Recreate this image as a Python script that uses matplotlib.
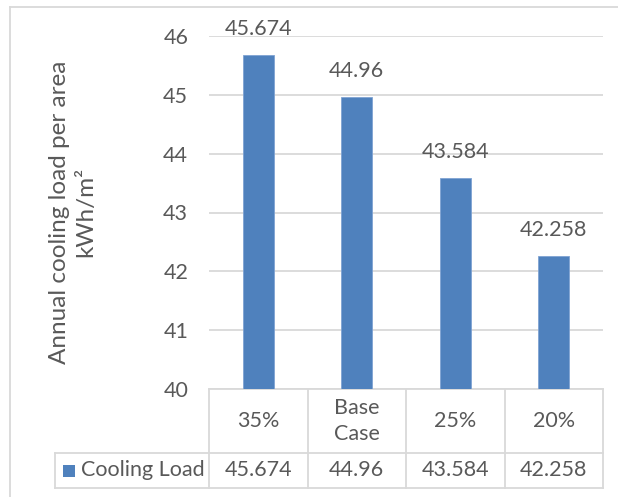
import matplotlib.pyplot as plt
import matplotlib.patches as mpatches
from matplotlib.lines import Line2D

# Cooling load per scenario
categories = ['35%', 'Base\nCase', '25%', '20%']
cooling_load = [45.674, 44.96, 43.584, 42.258]
series_name = 'Cooling Load'
yticks = [40, 41, 42, 43, 44, 45, 46]

BLUE = '#4F81BD'
GRID = '#D9D9D9'
TEXT = '#595959'
FS = 15.5

plt.rcParams['font.family'] = ['Lato', 'DejaVu Sans']

fig = plt.figure(figsize=(6.18, 4.97), dpi=100)
W, H = 618, 497
# plot area in pixels: left 209, right 603, top 36, bottom 389
ax = fig.add_axes([209 / W, 1 - 389 / H, (603 - 209) / W, (389 - 36) / H])

x = range(len(categories))
bars = ax.bar(x, cooling_load, width=0.31, color=BLUE, edgecolor='#7FA3D3',
              linewidth=0.6, zorder=3)

for xi, v in zip(x, cooling_load):
    ax.annotate(f'{v:g}', (xi, v), xytext=(0, 18.5), textcoords='offset points',
                ha='center', va='center', fontsize=FS, color=TEXT)

ax.set_xlim(-0.5, len(categories) - 0.5)
ax.set_ylim(yticks[0], yticks[-1])
ax.set_yticks(yticks)
ax.set_xticks([])
ax.tick_params(axis='y', length=0, pad=15, labelsize=FS, labelcolor=TEXT)
for s in ax.spines.values():
    s.set_visible(False)
ax.grid(axis='y', color=GRID, linewidth=1.3, zorder=0)

# data table under the plot (axes coordinates)
n = len(categories)
row1 = -64 / 353
row2 = -99 / 353
lab_left = (55 - 209) / 394
lkw = dict(color=GRID, linewidth=1.3, transform=ax.transAxes, clip_on=False)
for i in range(n + 1):
    ax.add_line(Line2D([i / n, i / n], [0, row2], **lkw))
ax.add_line(Line2D([0, 1], [0, 0], **lkw))
ax.add_line(Line2D([lab_left, 1], [row1, row1], **lkw))
ax.add_line(Line2D([lab_left, 1], [row2, row2], **lkw))
ax.add_line(Line2D([lab_left, lab_left], [row1, row2], **lkw))

for i, (cat, v) in enumerate(zip(categories, cooling_load)):
    cx = (i + 0.5) / n
    ax.text(cx, row1 / 2, cat, transform=ax.transAxes, ha='center', va='center',
            fontsize=FS, color=TEXT, linespacing=1.35)
    ax.text(cx, (row1 + row2) / 2, f'{v:g}', transform=ax.transAxes,
            ha='center', va='center', fontsize=FS, color=TEXT)

# legend key inside the row label cell
key_w = 12 / 394
key_h = 12 / 353
key_x = (63 - 209) / 394
ax.add_patch(mpatches.Rectangle((key_x, (row1 + row2) / 2 - key_h / 2), key_w, key_h,
                                facecolor=BLUE, edgecolor='none',
                                transform=ax.transAxes, clip_on=False))
ax.text((81 - 209) / 394, (row1 + row2) / 2, series_name, transform=ax.transAxes,
        ha='left', va='center', fontsize=FS, color=TEXT)

fig.text(73 / W, 1 - 212 / H, 'Annual cooling load per area\nkWh/m²', rotation=90,
         ha='center', va='center', multialignment='center', fontsize=17.5,
         color=TEXT, linespacing=1.3)

# chart border (left and top edges visible)
fig.add_artist(Line2D([10 / W, 10 / W], [0, 1 - 7 / H], color=GRID, linewidth=1.3,
                      transform=fig.transFigure))
fig.add_artist(Line2D([10 / W, 1], [1 - 7 / H, 1 - 7 / H], color=GRID, linewidth=1.3,
                      transform=fig.transFigure))

fig.savefig('out.png', dpi=100)
